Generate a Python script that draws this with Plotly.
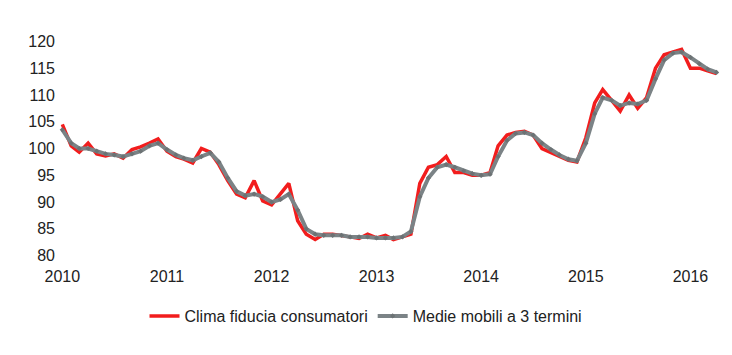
import plotly.graph_objects as go
import pandas as pd

months = pd.date_range("2010-01-01", periods=76, freq="MS")

clima = [104.5, 100.5, 99.3, 101.0, 99.0, 98.6, 99.0, 98.2, 99.8, 100.3, 101.0, 101.8,
         99.5, 98.5, 98.0, 97.3, 100.0, 99.3, 97.0, 94.0, 91.5, 90.8, 94.0, 90.2,
         89.5, 91.5, 93.5, 86.5, 84.0, 83.0, 84.0, 84.0, 83.8, 83.5, 83.2, 84.0,
         83.3, 83.8, 83.0, 83.5, 84.0, 93.5, 96.5, 97.0, 98.5, 95.5, 95.5, 95.0,
         95.0, 95.5, 100.5, 102.5, 103.0, 103.2, 102.5, 100.0, 99.3, 98.5, 97.8, 97.5,
         102.0, 108.5, 111.0, 109.0, 107.0, 110.0, 107.5, 109.5, 115.0, 117.5, 118.0, 118.5,
         115.0, 115.0, 114.5, 114.0]

media3 = [103.5, 101.0, 100.0, 100.0, 99.5, 99.0, 98.8, 98.5, 99.0, 99.5, 100.5, 101.0,
          99.8, 98.8, 98.2, 97.8, 98.5, 99.2, 97.5, 94.5, 92.0, 91.2, 91.5, 91.0,
          90.0, 90.5, 91.5, 88.5, 85.0, 84.0, 83.8, 83.8, 83.8, 83.5, 83.5, 83.5,
          83.3, 83.3, 83.3, 83.5, 84.5, 91.0, 94.5, 96.5, 97.0, 96.5, 95.8, 95.3,
          95.0, 95.2, 98.5, 101.5, 102.8, 103.0, 102.5, 101.0, 99.8, 98.8, 98.0, 97.7,
          101.0, 106.5, 109.5, 109.0, 108.0, 108.5, 108.3, 109.0, 113.0, 116.5, 117.8, 118.0,
          117.0, 115.8, 114.8, 114.2]

y_ticks = [80, 85, 90, 95, 100, 105, 110, 115, 120]

fig = go.Figure()
fig.add_trace(go.Scatter(
    x=months, y=clima, mode="lines", name="Clima fiducia consumatori",
    line=dict(color="#f21d1d", width=3.5)))
fig.add_trace(go.Scatter(
    x=months, y=media3, mode="lines+markers", name="Medie mobili a 3 termini",
    line=dict(color="#7b8386", width=4),
    marker=dict(color="#6c7274", size=4, symbol="diamond")))

font_fam = "Liberation Sans, Arial, sans-serif"
fig.update_layout(
    width=732, height=355,
    margin=dict(l=56, r=10, t=36, b=94),
    paper_bgcolor="white", plot_bgcolor="white",
    font=dict(family=font_fam, color="#222222"),
    showlegend=True,
    legend=dict(orientation="h", xref="container", yref="container",
                x=0.5, xanchor="center", y=1 - 316 / 355, yanchor="middle",
                font=dict(size=16, color="#222222"), bgcolor="rgba(0,0,0,0)"),
    xaxis=dict(type="date", range=["2009-12-10", "2016-04-20"],
               tickformat="%Y", dtick="M12", tick0="2010-01-01",
               showgrid=False, zeroline=False, showline=False,
               ticklabelstandoff=4,
               tickfont=dict(size=16, color="#222222"), ticks=""),
    yaxis=dict(range=[79, 121], tickvals=y_ticks,
               showgrid=False, zeroline=False, showline=False,
               tickfont=dict(size=16, color="#222222"), ticks=""),
)

fig.write_html("out.html")
